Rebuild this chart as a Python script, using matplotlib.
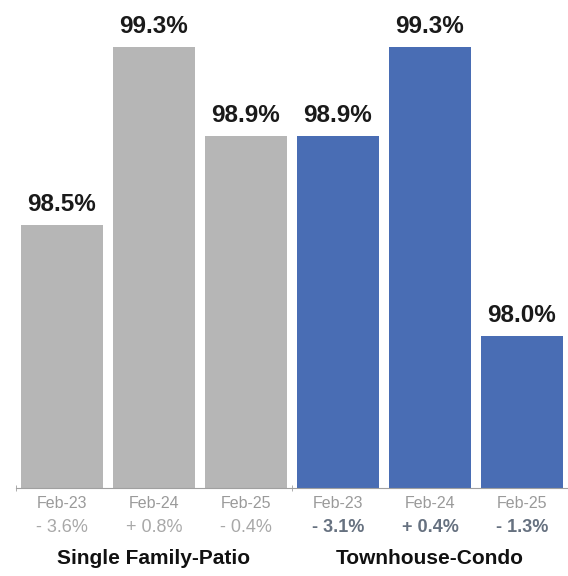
import matplotlib.pyplot as plt
import numpy as np

plt.rcParams['font.family'] = ['Liberation Sans', 'DejaVu Sans']

months = ['Feb-23', 'Feb-24', 'Feb-25', 'Feb-23', 'Feb-24', 'Feb-25']
sfp_values = [98.5, 99.3, 98.9]
thc_values = [98.9, 99.3, 98.0]
sfp_change = ['- 3.6%', '+ 0.8%', '- 0.4%']
thc_change = ['- 3.1%', '+ 0.4%', '- 1.3%']
groups = ['Single Family-Patio', 'Townhouse-Condo']

grey = '#b6b6b6'
blue = '#496db4'

fig = plt.figure(figsize=(5.68, 5.76), dpi=100)
ax = fig.add_axes([16 / 568, 88 / 576, 552 / 568, 488 / 576])

values = sfp_values + thc_values
x = np.arange(len(values))
colors = [grey] * 3 + [blue] * 3
ax.bar(x, values, width=0.9, color=colors, bottom=0)

ax.set_xlim(-0.5, 5.5)
ax.set_ylim(97.32, 99.51)

# value labels on top of each bar
for xi, v in zip(x, values):
    ax.annotate(f'{v:.1f}%', xy=(xi, v), xytext=(0, 9), textcoords='offset pixels',
                ha='center', va='bottom', fontsize=17.5, fontweight='bold', color='#1a1a1a')

# month and change rows under the axis
changes = sfp_change + thc_change
for xi, m, c in zip(x, months, changes):
    ax.annotate(m, xy=(xi, 0), xycoords=('data', 'axes fraction'), xytext=(0, -15),
                textcoords='offset pixels', ha='center', va='center',
                fontsize=11.5, color='#9a9a9a')
    if xi < 3:
        ax.annotate(c, xy=(xi, 0), xycoords=('data', 'axes fraction'), xytext=(0, -40),
                    textcoords='offset pixels', ha='center', va='center',
                    fontsize=13, color='#a8a8a8')
    else:
        ax.annotate(c, xy=(xi, 0), xycoords=('data', 'axes fraction'), xytext=(0, -40),
                    textcoords='offset pixels', ha='center', va='center',
                    fontsize=13, fontweight='bold', color='#667180')

for gi, g in enumerate(groups):
    ax.annotate(g, xy=(gi * 3 + 1, 0), xycoords=('data', 'axes fraction'), xytext=(0, -71),
                textcoords='offset pixels', ha='center', va='center',
                fontsize=15, fontweight='bold', color='#111111')

for s in ['top', 'right', 'left']:
    ax.spines[s].set_visible(False)
ax.spines['bottom'].set_color('#a0a0a0')
ax.spines['bottom'].set_linewidth(0.8)
ax.set_yticks([])
ax.set_xticks([])
ax.set_xticks([-0.5, 2.5, 5.5], minor=True)
ax.tick_params(axis='x', which='minor', direction='inout', length=5, color='#a0a0a0',
               labelbottom=False)

fig.savefig('out.png', dpi=100)
